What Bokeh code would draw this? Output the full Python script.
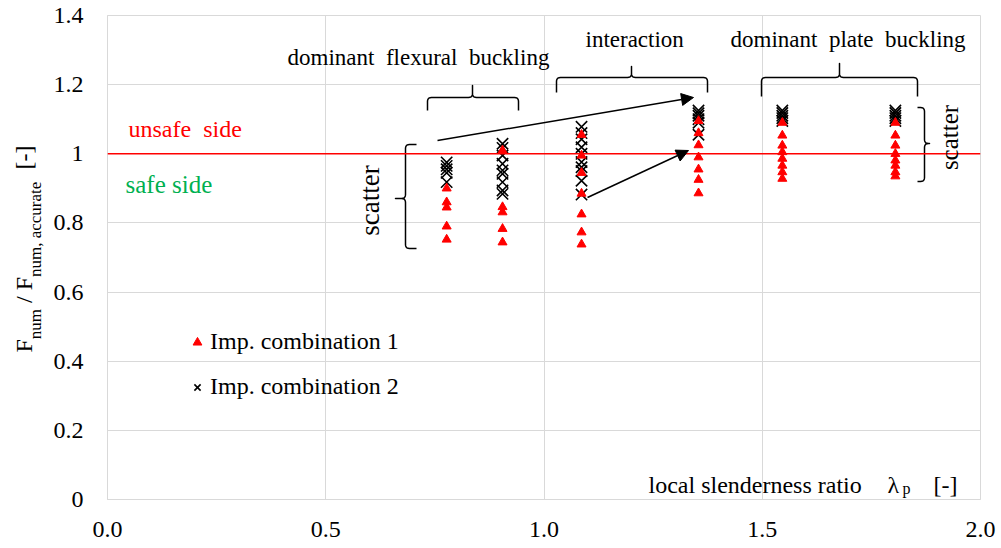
import numpy as np
from bokeh.plotting import figure
from bokeh.layouts import row
from bokeh.models import (Range1d, FixedTicker, Label, Legend, LegendItem,
                          Arrow, NormalHead, Span)
from bokeh.embed import file_html
from bokeh.resources import INLINE

# local slenderness ratio of each investigated section
lam = [0.777, 0.905, 1.086, 1.354, 1.546, 1.805]

# F_num / F_num,accurate for imperfection combination 1, one list per section
comb1_s1 = [0.900, 0.860, 0.845, 0.790, 0.752]
comb1_s2 = [1.010, 0.846, 0.831, 0.783, 0.744]
comb1_s3 = [1.055, 0.995, 0.945, 0.885, 0.825, 0.773, 0.738]
comb1_s4 = [1.095, 1.060, 1.025, 0.990, 0.955, 0.925, 0.886]
comb1_s5 = [1.090, 1.053, 1.024, 1.005, 0.986, 0.966, 0.947, 0.928]
comb1_s6 = [1.090, 1.053, 1.024, 1.000, 0.981, 0.966, 0.947, 0.935]

# F_num / F_num,accurate for imperfection combination 2
comb2_s1 = [0.975, 0.965, 0.955, 0.945, 0.918]
comb2_s2 = [1.029, 1.017, 0.995, 0.971, 0.952, 0.942, 0.918, 0.894, 0.884]
comb2_s3 = [1.078, 1.060, 1.042, 1.019, 1.000, 0.976, 0.961, 0.950, 0.922, 0.882]
comb2_s4 = [1.125, 1.117, 1.110, 1.100, 1.090, 1.055]
comb2_s5 = [1.125, 1.118, 1.110, 1.103, 1.095]
comb2_s6 = [1.125, 1.118, 1.110, 1.103, 1.095]

series_names = ["Imp. combination 1", "Imp. combination 2"]

x_ticks = [0.0, 0.5, 1.0, 1.5, 2.0]
x_tick_labels = ["0.0", "0.5", "1.0", "1.5", "2.0"]
y_ticks = [0.0, 0.2, 0.4, 0.6, 0.8, 1.0, 1.2, 1.4]
y_tick_labels = ["0", "0.2", "0.4", "0.6", "0.8", "1", "1.2", "1.4"]

FONT = "Liberation Serif"
NB = "\u00a0"

comb1 = [comb1_s1, comb1_s2, comb1_s3, comb1_s4, comb1_s5, comb1_s6]
comb2 = [comb2_s1, comb2_s2, comb2_s3, comb2_s4, comb2_s5, comb2_s6]


def flatten(groups):
    xs, ys = [], []
    for l, vals in zip(lam, groups):
        xs += [l] * len(vals)
        ys += vals
    return xs, ys


x1, y1 = flatten(comb1)
x2, y2 = flatten(comb2)

# page geometry in pixels: a narrow strip for the vertical title, then the chart
W, H = 1001, 548
LW = 50
L, R, T, B = 107, 980, 15, 499
XR, YR = (0.0, 2.0), (0.0, 1.4)
BASE_SHIFT = 8  # alphabetic baseline correction of the svg text


def dx(px):
    return XR[0] + (np.asarray(px, float) - L) / (R - L) * (XR[1] - XR[0])


def dy(py):
    return YR[0] + (B - np.asarray(py, float)) / (B - T) * (YR[1] - YR[0])


p = figure(width=W - LW, height=H, output_backend="svg", toolbar_location=None,
           x_range=Range1d(*XR), y_range=Range1d(*YR),
           min_border_left=L - LW, min_border_right=W - R,
           min_border_top=T, min_border_bottom=H - B)
p.background_fill_color = "white"
p.border_fill_color = "white"
p.outline_line_color = "#d9d9d9"

for ax, ticks, labels in ((p.xaxis, x_ticks, x_tick_labels),
                          (p.yaxis, y_ticks, y_tick_labels)):
    ax.ticker = FixedTicker(ticks=ticks)
    ax.major_label_overrides = dict(zip(ticks, labels))
    ax.axis_line_color = "#d9d9d9"
    ax.major_tick_line_color = None
    ax.minor_tick_line_color = None
    ax.major_label_text_font = FONT
    ax.major_label_text_font_size = "24px"
    ax.major_label_text_color = "black"
p.xaxis.major_label_standoff = 16
p.yaxis.major_label_standoff = 18

p.xgrid.ticker = FixedTicker(ticks=x_ticks)
p.ygrid.ticker = FixedTicker(ticks=y_ticks)
p.grid.grid_line_color = "#d9d9d9"
p.grid.grid_line_width = 1

# reference ratio 1.0
p.add_layout(Span(location=1.0, dimension="width", line_color="red", line_width=1.5))

r2 = p.scatter(x2, y2, marker="x", size=16, line_color="black", line_width=1.6)
r1 = p.scatter(x1, y1, marker="triangle", size=9, fill_color="red", line_color="red")

legend = Legend(items=[LegendItem(label=series_names[0], renderers=[r1]),
                       LegendItem(label=series_names[1], renderers=[r2])],
                location=(79, 99), orientation="vertical", padding=0, margin=0,
                spacing=18, glyph_width=22, glyph_height=24, label_height=24,
                label_standoff=2, label_text_font=FONT, label_text_font_size="24px",
                label_text_color="black",
                background_fill_alpha=0, border_line_alpha=0)
p.add_layout(legend)


def brace(t0, t1, tn, s_bar, s_end, s_nub, vertical=False, r=4.0, n=6):
    d_end = np.sign(s_end - s_bar)
    d_nub = np.sign(s_nub - s_bar)
    u = np.linspace(0, 1, n)[:, None]

    def bez(p0, c, p2):
        return (1 - u) ** 2 * np.array(p0) + 2 * u * (1 - u) * np.array(c) + u ** 2 * np.array(p2)

    pts = np.vstack([
        [[t0, s_end]],
        bez((t0, s_bar + d_end * r), (t0, s_bar), (t0 + r, s_bar)),
        bez((tn - r, s_bar), (tn, s_bar), (tn, s_bar + d_nub * r)),
        [[tn, s_nub], [tn, s_bar + d_nub * r]],
        bez((tn, s_bar + d_nub * r), (tn, s_bar), (tn + r, s_bar)),
        bez((t1 - r, s_bar), (t1, s_bar), (t1, s_bar + d_end * r)),
        [[t1, s_end]],
    ])
    t, s = pts[:, 0], pts[:, 1]
    px, py = (s, t) if vertical else (t, s)
    return dx(px), dy(py)


braces = [
    dict(t0=427, t1=518, tn=472, s_bar=97, s_end=110, s_nub=85),
    dict(t0=556, t1=707, tn=631, s_bar=77, s_end=92, s_nub=66),
    dict(t0=761, t1=917, tn=839, s_bar=77, s_end=96, s_nub=63),
    dict(t0=144, t1=248, tn=198, s_bar=405, s_end=416, s_nub=395, vertical=True),
    dict(t0=107, t1=181, tn=143, s_bar=924, s_end=917, s_nub=929, vertical=True),
]
for b in braces:
    bx, by = brace(**b)
    p.line(bx, by, line_color="black", line_width=1.5, line_join="round")

# trend arrows towards the interaction region
for xs, ys, xe, ye in ((dx(437), dy(140), dx(693), dy(97)),
                       (dx(587), dy(197), dx(688), dy(150))):
    p.add_layout(Arrow(x_start=float(xs), y_start=float(ys), x_end=float(xe), y_end=float(ye),
                       line_color="black", line_width=1.5,
                       end=NormalHead(size=12, fill_color="black", line_color="black")))


def label(text, px, py, size, color="black", angle=0.0, align="left"):
    if angle:
        px = px - BASE_SHIFT - 1
    else:
        py = py - BASE_SHIFT
    p.add_layout(Label(x=float(dx(px)), y=float(dy(py)), text=text, text_font=FONT,
                       text_font_size=f"{size}px", text_color=color, angle=angle,
                       text_align=align, text_baseline="alphabetic"))


label(f"dominant {NB}flexural {NB}buckling", 287, 65, 23)
label("interaction", 585, 47, 23)
label(f"dominant {NB}plate {NB}buckling", 730, 47, 23)
label(f"unsafe {NB}side", 128, 136, 24, color="red")
label("safe side", 125, 192, 25, color="#00b050")
label("scatter", 378, 200, 27, angle=np.pi / 2, align="center")
label("scatter", 958, 137, 25, angle=np.pi / 2, align="center")

# horizontal axis title, written inside the plot area
label("local slenderness ratio", 648, 492, 24)
label("\u03bb", 887, 492, 24)
label("p", 902, 496, 16)
label("[-]", 933, 492, 24)

# vertical axis title with subscripts, in its own strip left of the chart
ylab = figure(title=None, frame_width=LW, frame_height=H, output_backend="svg",
              toolbar_location=None, x_range=Range1d(0, LW), y_range=Range1d(0, H),
              x_axis_location=None, y_axis_location=None,
              min_border=0, min_border_left=0, min_border_right=0,
              min_border_top=0, min_border_bottom=0)
ylab.outline_line_color = None
ylab.background_fill_color = "white"
ylab.border_fill_color = "white"
for g in ylab.grid:
    g.visible = False

ytitle = [("F", 24, 347, False), ("num", 17, 333.7, True), ("/ F", 24, 297.5, False),
          ("num, accurate", 17, 271.5, True), ("[-]", 24, 164, False)]
for text, size, py, sub in ytitle:
    bx = 42 - 7 if sub else 32 - 9
    ylab.add_layout(Label(x=bx, y=H - (py - 10), text=text, text_font=FONT,
                          text_font_size=f"{size}px", text_color="black",
                          angle=np.pi / 2, text_align="left", text_baseline="alphabetic"))

layout = row(ylab, p)
open("out.html", "w").write(file_html(layout, INLINE))
